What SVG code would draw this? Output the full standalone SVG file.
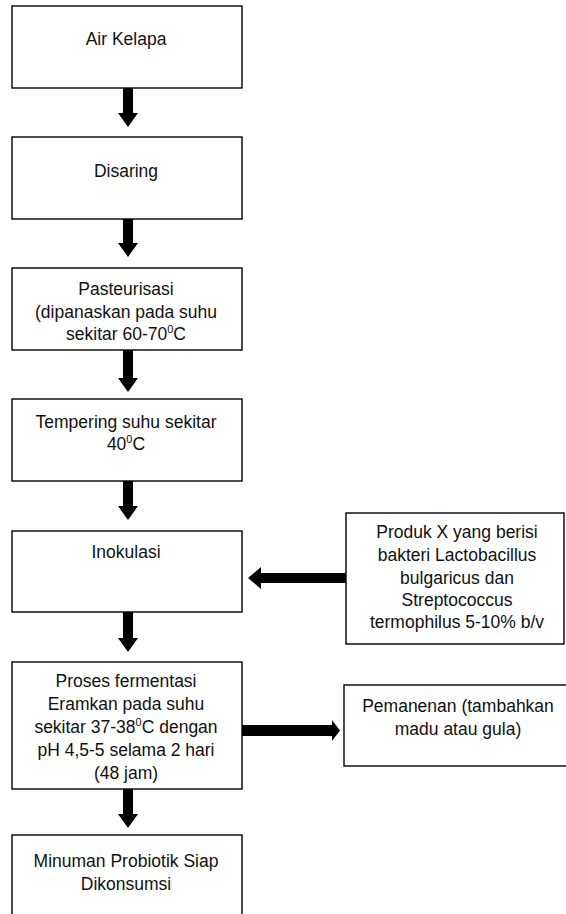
<svg xmlns="http://www.w3.org/2000/svg" width="566" height="914" viewBox="0 0 566 914">
<style>
.box{fill:#fff;stroke:#000;stroke-width:1.4}
.t{font-family:"Liberation Sans",Arial,sans-serif;font-size:17.5px;fill:#111;text-anchor:middle}
.sup{font-size:11px}
.arr{fill:#000;stroke:none}
</style>
<rect width="566" height="914" fill="#fff"/>
<g id="connectors">
<polygon class="arr" points="123,88 133,88 133,113 138,113 128,127 118,113 123,113"/>
<polygon class="arr" points="123,219 133,219 133,243 138,243 128,257 118,243 123,243"/>
<polygon class="arr" points="123,350 133,350 133,378 138,378 128,392 118,378 123,378"/>
<polygon class="arr" points="123,481 133,481 133,506 138,506 128,520 118,506 123,506"/>
<polygon class="arr" points="123,612 133,612 133,638 138,638 128,652 118,638 123,638"/>
<polygon class="arr" points="123,789 133,789 133,814 138,814 128,828 118,814 123,814"/>
<polygon class="arr" points="346,573 346,583 261,583 261,589 248,578 261,567 261,573"/>
<polygon class="arr" points="242,725 242,736 332,736 332,741 340,730.5 332,720 332,725"/>
</g>
<g id="n1"><rect class="box" x="12" y="6" width="230" height="82"/><text class="t" x="126" y="45">Air Kelapa</text></g>
<g id="n2"><rect class="box" x="12" y="137" width="230" height="82"/><text class="t" x="126" y="177">Disaring</text></g>
<g id="n3"><rect class="box" x="12" y="268" width="230" height="82"/>
<text class="t" x="126" y="295">Pasteurisasi</text>
<text class="t" x="126" y="317.5">(dipanaskan pada suhu</text>
<text class="t" x="126" y="340">sekitar 60-70<tspan class="sup" dy="-7">0</tspan><tspan dy="7">C</tspan></text></g>
<g id="n4"><rect class="box" x="12" y="399" width="230" height="82"/>
<text class="t" x="126" y="428">Tempering suhu sekitar</text>
<text class="t" x="126" y="450">40<tspan class="sup" dy="-7">0</tspan><tspan dy="7">C</tspan></text></g>
<g id="n5"><rect class="box" x="12" y="531" width="230" height="81"/><text class="t" x="126" y="558">Inokulasi</text></g>
<g id="n6"><rect class="box" x="12" y="662" width="230" height="127"/>
<text class="t" x="126" y="687">Proses fermentasi</text>
<text class="t" x="126" y="710">Eramkan pada suhu</text>
<text class="t" x="126" y="733">sekitar 37-38<tspan class="sup" dy="-7">0</tspan><tspan dy="7">C dengan</tspan></text>
<text class="t" x="126" y="756">pH 4,5-5 selama 2 hari</text>
<text class="t" x="126" y="779">(48 jam)</text></g>
<g id="n7"><rect class="box" x="12" y="835" width="230" height="90"/>
<text class="t" x="126" y="867">Minuman Probiotik Siap</text>
<text class="t" x="126" y="890">Dikonsumsi</text></g>
<g id="n8"><rect class="box" x="346" y="513" width="218" height="131"/>
<text class="t" x="457" y="538">Produk X yang berisi</text>
<text class="t" x="457" y="561">bakteri Lactobacillus</text>
<text class="t" x="457" y="584">bulgaricus dan</text>
<text class="t" x="457" y="606">Streptococcus</text>
<text class="t" x="457" y="628">termophilus 5-10% b/v</text></g>
<g id="n9"><rect class="box" x="344" y="685" width="230" height="81"/>
<text class="t" x="458" y="712">Pemanenan (tambahkan</text>
<text class="t" x="458" y="735">madu atau gula)</text></g>
</svg>
